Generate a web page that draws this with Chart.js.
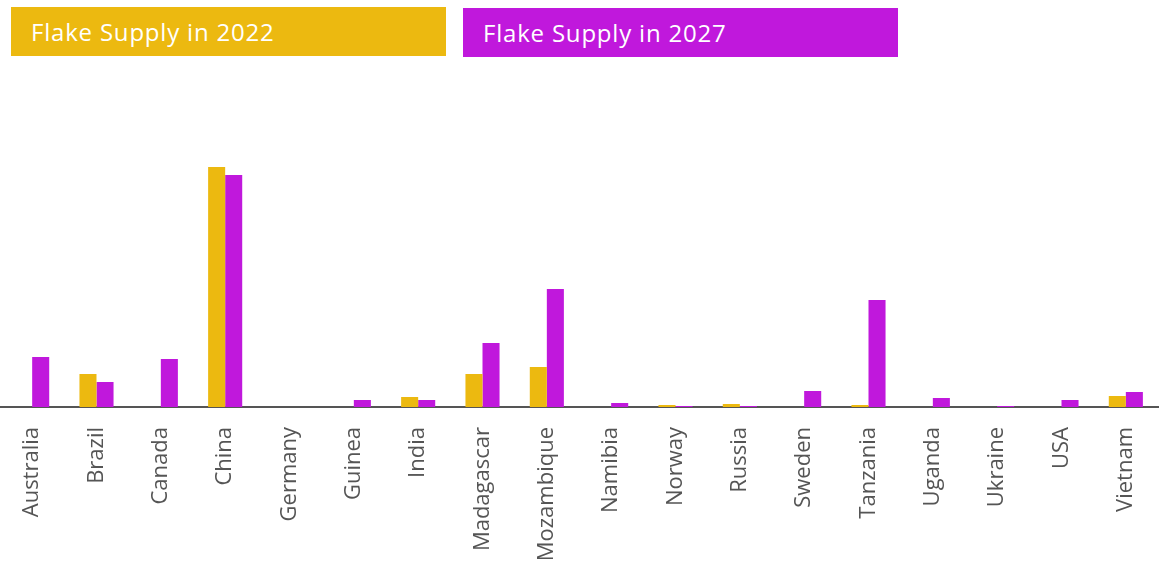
<!DOCTYPE html>
<html lang="en">
<head>
  <meta charset="UTF-8">
  <title>Flake Supply</title>
  <script src="https://cdn.jsdelivr.net/npm/chart.js@4/dist/chart.umd.min.js"></script>
  <style>
    html, body { margin: 0; padding: 0; background: #fff; }
    .wrap { position: relative; width: 1166px; height: 568px; }
    .key {
      position: absolute; height: 49px; width: 435px; box-sizing: border-box;
      padding-left: 20px; line-height: 50px; color: #fff;
      font-family: "Open Sans", sans-serif; font-size: 24px; letter-spacing: 0.8px;
    }
    #chart { position: absolute; left: 0; top: 0; }
  </style>
</head>
<body>
  <div class="wrap">
    <canvas id="chart" width="1166" height="568"></canvas>
    <div class="key" style="left:11px; top:7px; background:#ecb910;">Flake Supply in 2022</div>
    <div class="key" style="left:463px; top:8px; background:#c018dc;">Flake Supply in 2027</div>
  </div>

  <script>
    // Flake graphite supply by country, thousand tonnes
    const countries = ['Australia', 'Brazil', 'Canada', 'China', 'Germany', 'Guinea', 'India', 'Madagascar',
      'Mozambique', 'Namibia', 'Norway', 'Russia', 'Sweden', 'Tanzania', 'Uganda', 'Ukraine', 'USA', 'Vietnam'];
    const supply2022 = [0, 165, 0, 1200, 0, 0, 50, 165, 200, 0, 10, 15, 0, 10, 0, 0, 0, 55];
    const supply2027 = [250, 125, 240, 1160, 0, 35, 35, 320, 590, 20, 5, 5, 80, 535, 45, 5, 35, 75];

    const gold = '#ecb910';
    const purple = '#c018dc';

    new Chart(document.getElementById('chart'), {
      type: 'bar',
      data: {
        labels: countries,
        datasets: [
          { label: 'Flake Supply in 2022', data: supply2022, backgroundColor: gold },
          { label: 'Flake Supply in 2027', data: supply2027, backgroundColor: purple }
        ]
      },
      options: {
        responsive: false,
        animation: false,
        layout: { padding: { top: 147, left: -4, right: 8, bottom: 0 } },
        datasets: { bar: { categoryPercentage: 0.53, barPercentage: 1 } },
        plugins: { legend: { display: false }, tooltip: { enabled: false } },
        scales: {
          x: {
            grid: { display: false },
            border: { color: '#555', width: 2 },
            ticks: {
              color: '#555',
              font: { family: 'Open Sans', size: 22 },
              minRotation: 90, maxRotation: 90,
              padding: 12
            },
            afterFit: (scale) => { scale.height = 161; }
          },
          y: { display: false, min: 0, max: 1300 }
        }
      }
    });
  </script>
</body>
</html>
